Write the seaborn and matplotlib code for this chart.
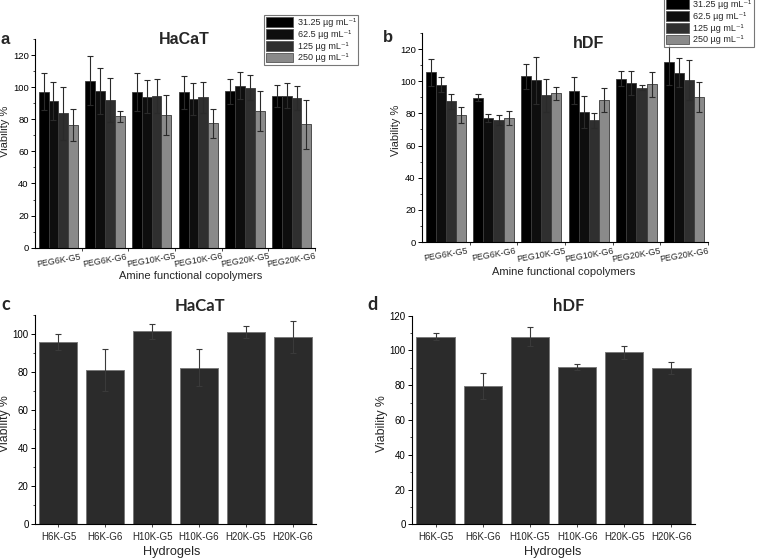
import numpy as np
import pandas as pd
import seaborn as sns
import matplotlib
matplotlib.use("Agg")
import matplotlib.pyplot as plt
from matplotlib.patches import Patch
from matplotlib.ticker import MultipleLocator, FixedLocator

# ---------------- data ----------------
copolymers = ['PEG6K-G5', 'PEG6K-G6', 'PEG10K-G5', 'PEG10K-G6', 'PEG20K-G5', 'PEG20K-G6']
concentrations = ['31.25 µg mL⁻¹', '62.5 µg mL⁻¹', '125 µg mL⁻¹', '250 µg mL⁻¹']

hacat_31 = [97.2, 104.0, 97.0, 96.7, 97.4, 94.5]
hacat_62 = [91.3, 97.6, 94.0, 92.6, 100.9, 94.7]
hacat_125 = [83.7, 92.0, 94.5, 93.6, 99.6, 93.4]
hacat_250 = [76.4, 81.8, 82.6, 77.4, 85.1, 76.8]
hacat_31_sd = [11.4, 15.4, 11.6, 10.2, 7.9, 6.6]
hacat_62_sd = [12.0, 14.3, 10.4, 9.7, 8.3, 7.6]
hacat_125_sd = [16.6, 13.9, 10.8, 9.8, 7.9, 7.5]
hacat_250_sd = [9.8, 3.3, 12.5, 9.3, 12.7, 15.2]

hdf_31 = [105.5, 89.7, 103.0, 94.1, 101.6, 111.7]
hdf_62 = [97.8, 77.3, 100.5, 81.0, 98.7, 105.3]
hdf_125 = [87.5, 75.6, 91.2, 75.6, 96.0, 100.7]
hdf_250 = [79.0, 76.9, 92.4, 88.3, 98.0, 90.2]
hdf_31_sd = [8.5, 2.3, 7.9, 8.3, 4.6, 13.9]
hdf_62_sd = [4.6, 2.5, 14.5, 10.0, 7.4, 8.9]
hdf_125_sd = [4.7, 3.1, 10.4, 4.4, 1.4, 12.3]
hdf_250_sd = [4.7, 4.3, 4.0, 7.3, 7.5, 9.1]

hydrogels = ['H6K-G5', 'H6K-G6', 'H10K-G5', 'H10K-G6', 'H20K-G5', 'H20K-G6']
gel_hacat = [95.8, 81.2, 101.4, 82.2, 101.0, 98.4]
gel_hacat_sd = [4.0, 11.0, 4.0, 9.7, 3.0, 8.5]
gel_hdf = [107.9, 79.5, 107.9, 90.5, 98.9, 89.7]
gel_hdf_sd = [2.0, 7.4, 5.5, 1.8, 3.6, 3.5]

conc_colors = ['#000000', '#0e0e0e', '#2f2f2f', '#8a8a8a']
gel_color = '#2b2b2b'

# ---------------- figure ----------------
sns.set_theme(style='ticks')
plt.rcParams['font.family'] = ['Liberation Sans', 'DejaVu Sans']

W, H = 762, 559
fig = plt.figure(figsize=(W / 100, H / 100), dpi=100)


def ax_px(left, right, top, bottom):
    return fig.add_axes([left / W, 1 - bottom / H, (right - left) / W, (bottom - top) / H])


def style_axis(ax, ymax, fs):
    sns.despine(ax=ax)
    for s in ['left', 'bottom']:
        ax.spines[s].set_color('black')
        ax.spines[s].set_linewidth(0.8)
    ax.set_ylim(0, ymax)
    ax.set_xlim(-0.5, 5.5)
    ax.yaxis.set_major_locator(MultipleLocator(20))
    ax.yaxis.set_minor_locator(MultipleLocator(10))
    ax.tick_params(axis='y', which='major', length=3, width=0.7, labelsize=fs, pad=1.5, colors='black')
    ax.tick_params(axis='y', which='minor', length=1.5, width=0.6, left=True)
    ax.set_xlabel('')
    ax.set_ylabel('')
    ax.set_facecolor('white')


def grouped(ax, means, sds):
    rows = []
    for c, vals in zip(concentrations, means):
        for g, v in zip(copolymers, vals):
            rows.append({'group': g, 'conc': c, 'value': v})
    df = pd.DataFrame(rows)
    sns.barplot(data=df, x='group', y='value', hue='conc', order=copolymers,
                hue_order=concentrations, palette=conc_colors, width=0.84,
                errorbar=None, edgecolor='#3a3a3a', linewidth=0.6, legend=False,
                saturation=1, ax=ax)
    for cont, sd in zip(ax.containers, sds):
        xs = [r.get_x() + r.get_width() / 2 for r in cont]
        ys = [r.get_height() for r in cont]
        ax.errorbar(xs, ys, yerr=sd, fmt='none', ecolor='#2a2a2a', elinewidth=0.8,
                    capsize=2.2, capthick=0.8)
    style_axis(ax, 130, 6.8)
    ax.set_xticks(range(6))
    ax.set_xticklabels(copolymers, rotation=10, fontsize=6.4, ha='center')
    ax.tick_params(axis='x', which='major', length=0, pad=3)
    ax.xaxis.set_minor_locator(FixedLocator(np.arange(6) + 0.5))
    ax.tick_params(axis='x', which='minor', length=2.5, width=0.6, bottom=True)


def single(ax, means, sds, ymax):
    df = pd.DataFrame({'gel': hydrogels, 'value': means})
    sns.barplot(data=df, x='gel', y='value', order=hydrogels, color=gel_color,
                saturation=1, width=0.81, errorbar=None, edgecolor='#7a7a7a',
                linewidth=0.7, ax=ax)
    xs = [r.get_x() + r.get_width() / 2 for r in ax.containers[0]]
    ys = [r.get_height() for r in ax.containers[0]]
    ax.errorbar(xs, ys, yerr=sds, fmt='none', ecolor='#3a3a3a', elinewidth=0.8,
                capsize=2.2, capthick=0.8)
    style_axis(ax, ymax, 7)
    ax.set_xticks(range(6))
    ax.set_xticklabels(hydrogels, fontsize=7)
    ax.tick_params(axis='x', which='major', length=2.5, width=0.6, pad=3)


# panel a
ax_a = ax_px(35, 315, 39, 247.7)
grouped(ax_a, [hacat_31, hacat_62, hacat_125, hacat_250],
        [hacat_31_sd, hacat_62_sd, hacat_125_sd, hacat_250_sd])
# panel b
ax_b = ax_px(422, 708, 33, 242)
grouped(ax_b, [hdf_31, hdf_62, hdf_125, hdf_250],
        [hdf_31_sd, hdf_62_sd, hdf_125_sd, hdf_250_sd])
# panel c
ax_c = ax_px(35, 316, 315, 524)
single(ax_c, gel_hacat, gel_hacat_sd, 110)
# panel d
ax_d = ax_px(412, 695, 315.7, 524.3)
single(ax_d, gel_hdf, gel_hdf_sd, 120)


def ftext(x, y, s, **kw):
    fig.text(x / W, 1 - y / H, s, ha='center', va='center', **kw)


# titles / letters
ftext(184, 40, 'HaCaT', fontsize=11.5, fontweight='bold')
ftext(589, 43, 'hDF', fontsize=11.5, fontweight='bold')
ftext(200, 306, 'HaCaT', fontsize=12, fontweight='bold', family=['Lato', 'DejaVu Sans'])
ftext(569, 306, 'hDF', fontsize=12, fontweight='bold', family=['Lato', 'DejaVu Sans'])
ftext(5, 39, 'a', fontsize=12, fontweight='bold')
ftext(388, 37, 'b', fontsize=12, fontweight='bold')
ftext(6, 305, 'c', fontsize=13, fontweight='bold', family=['Lato', 'DejaVu Sans'])
ftext(372, 305, 'd', fontsize=13, fontweight='bold', family=['Lato', 'DejaVu Sans'])

# axis labels
ftext(5, 131, 'Viability %', fontsize=8, rotation=90)
ftext(396, 130, 'Viability %', fontsize=8, rotation=90)
ftext(5, 424, 'Viability %', fontsize=8.8, rotation=90)
ftext(382, 424, 'Viability %', fontsize=8.8, rotation=90)
ftext(191, 276, 'Amine functional copolymers', fontsize=8)
ftext(564, 272, 'Amine functional copolymers', fontsize=8)
ftext(172, 552, 'Hydrogels', fontsize=9.2)
ftext(553, 552, 'Hydrogels', fontsize=9.2)

# legends
handles = [Patch(facecolor=c, edgecolor='#555555', linewidth=0.6) for c in conc_colors]
for (lx, ly, hl) in [(264, 15, 3.0), (664, -3, 2.5)]:
    leg = fig.legend(handles, concentrations, loc='upper left',
                     bbox_to_anchor=(lx / W, 1 - ly / H), frameon=True, fancybox=False,
                     fontsize=6.5, handlelength=hl, handleheight=1.3,
                     labelspacing=0.2, borderpad=0.25, handletextpad=0.5,
                     borderaxespad=0)
    leg.get_frame().set_edgecolor('#555555')
    leg.get_frame().set_linewidth(0.8)

fig.savefig('out.png', dpi=100, facecolor='white')
